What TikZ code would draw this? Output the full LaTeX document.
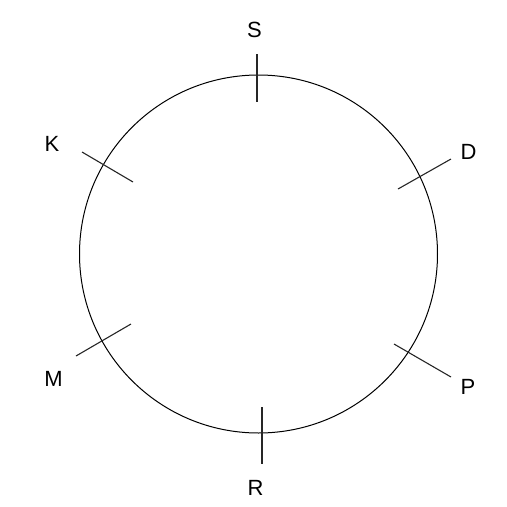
\documentclass[tikz,border=0pt]{standalone}
\usepackage{fontspec}
\setmainfont{Liberation Sans}
\begin{document}
\begin{tikzpicture}[x=1pt,y=-1pt,
  ring/.style={draw=black,line width=1pt},
  tick/.style={draw=black!85,line width=1.1pt},
  lbl/.style={font=\fontsize{22}{26}\selectfont,inner sep=0pt}]
\useasboundingbox (0,0) rectangle (507,507);
\node[ring,circle,minimum size=358pt,inner sep=0pt] (c) at (258.5,254) {};
% ticks
\coordinate (s1) at (257,54); \coordinate (s2) at (257,102);
\coordinate (k1) at (82,152); \coordinate (k2) at (133,182);
\coordinate (d1) at (398,189); \coordinate (d2) at (451,159);
\coordinate (m1) at (76,356); \coordinate (m2) at (131,324);
\coordinate (p1) at (394,344); \coordinate (p2) at (451,377);
\coordinate (r1) at (262,407); \coordinate (r2) at (262,464);
\draw[tick] (s1) -- (s2);
\draw[tick] (k1) -- (k2);
\draw[tick] (d1) -- (d2);
\draw[tick] (m1) -- (m2);
\draw[tick] (p1) -- (p2);
\draw[tick] (r1) -- (r2);
% labels
\node[lbl] (S) at (254.5,30) {S};
\node[lbl] (K) at (52,144) {K};
\node[lbl] (D) at (468.5,152) {D};
\node[lbl] (M) at (53.5,379) {M};
\node[lbl] (P) at (468,387) {P};
\node[lbl] (R) at (255.5,488) {R};
\end{tikzpicture}
\end{document}
